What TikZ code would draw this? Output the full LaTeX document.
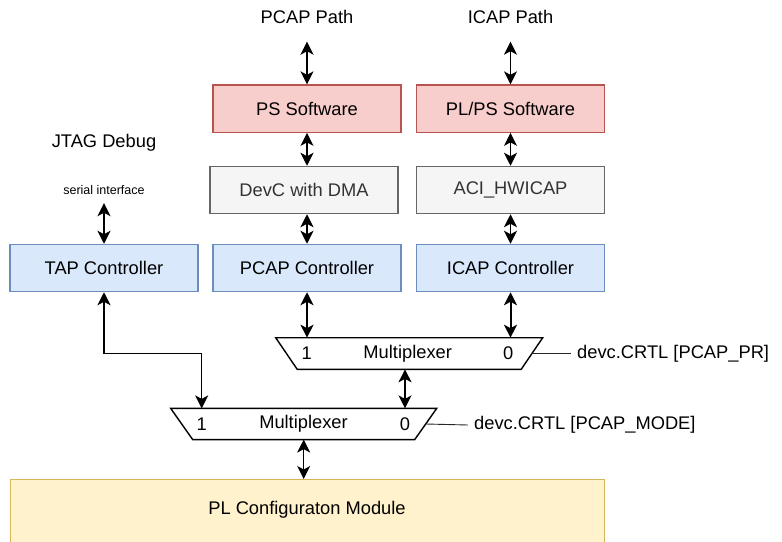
\documentclass[tikz,border=0pt]{standalone}
\usepackage{fontspec}
\setmainfont{Liberation Sans}
\usetikzlibrary{arrows.meta}

\definecolor{redfill}{HTML}{F8CECC}
\definecolor{redline}{HTML}{B85450}
\definecolor{grayfill}{HTML}{F5F5F5}
\definecolor{grayline}{HTML}{666666}
\definecolor{graytext}{HTML}{333333}
\definecolor{bluefill}{HTML}{DAE8FC}
\definecolor{blueline}{HTML}{6C8EBF}
\definecolor{yellowfill}{HTML}{FFF2CC}
\definecolor{yellowline}{HTML}{D6B656}

\tikzset{
  mainfont/.style={font=\fontsize{18.3}{22}\selectfont},
  smallfont/.style={font=\fontsize{12.5}{15}\selectfont},
  box/.style={draw, line width=1.2pt, minimum width=188pt, minimum height=47.3pt,
    inner sep=0pt, mainfont},
  redbox/.style={box, fill=redfill, draw=redline},
  graybox/.style={box, fill=grayfill, draw=grayline, text=graytext},
  bluebox/.style={box, fill=bluefill, draw=blueline},
  yellowbox/.style={draw=yellowline, fill=yellowfill, line width=1.2pt, inner sep=0pt},
  txt/.style={mainfont, inner sep=0pt},
  muxarea/.style={inner sep=0pt, outer sep=0pt},
  muxline/.style={draw, line width=1.4pt, line join=miter, fill=white},
  tip/.tip={Stealth[length=13pt, width=13pt, inset=3.5pt]},
  link/.style={line width=1.4pt, tip-tip},
  boldlink/.style={line width=2pt, tip-tip},
  ctl/.style={line width=0.9pt, draw=black!85},
}

\begin{document}
\begin{tikzpicture}[x=1pt, y=-1pt]
\useasboundingbox (0,0) rectangle (782,541);
\clip (0,0) rectangle (782,541);

% path labels above the columns
\node[txt, minimum height=49pt] (pcaplbl) at (307,17) {PCAP Path};
\node[txt, minimum height=49pt] (icaplbl) at (510.5,17) {ICAP Path};
\node[txt] (jtag) at (104,143) {JTAG Debug};
\node[smallfont, inner sep=0pt, minimum height=26pt] (serial) at (104,190) {serial interface};

% software layer
\node[redbox] (ps) at (307,108.6) {PS Software};
\node[redbox] (plps) at (510.5,108.6) {PL/PS Software};

% driver layer
\node[graybox] (devc) at (304,190) {DevC with DMA};
\node[graybox] (aci) at (510.5,190) {ACI\_HWICAP};

% controller layer
\node[bluebox] (tap) at (104,268) {TAP Controller};
\node[bluebox] (pcap) at (307,268) {PCAP Controller};
\node[bluebox] (icap) at (510.5,268) {ICAP Controller};

% upper multiplexer (PCAP / ICAP)
\node[muxarea, minimum width=267pt, minimum height=31.6pt] (mux1) at (409.2,353.5) {};
\draw[muxline] (mux1.north west) -- (mux1.north east)
  -- ([xshift=-21.5pt]mux1.south east) -- ([xshift=21.5pt]mux1.south west) -- cycle;
\node[txt] (m1one) at (306.7,353.5) {1};
\node[txt] (m1text) at (407.7,353.5) {Multiplexer};
\node[txt] (m1zero) at (508.3,353.5) {0};

% lower multiplexer (JTAG / processor)
\node[muxarea, minimum width=266pt, minimum height=31.2pt] (mux2) at (303.7,424) {};
\draw[muxline] (mux2.north west) -- (mux2.north east)
  -- ([xshift=-22pt]mux2.south east) -- ([xshift=22pt]mux2.south west) -- cycle;
\node[txt] (m2one) at (201.7,424) {1};
\node[txt] (m2text) at (303.5,424) {Multiplexer};
\node[txt] (m2zero) at (405,424) {0};

% select signals
\node[txt, anchor=west, inner sep=6pt] (prsel) at (571,353.5) {devc.CRTL [PCAP\_PR]};
\node[txt, anchor=west, inner sep=6pt] (modesel) at (468,425) {devc.CRTL [PCAP\_MODE]};
\draw[ctl] ([xshift=-10.75pt]mux1.east) -- (prsel.west);
\draw[ctl] ([xshift=-11pt]mux2.east) -- (modesel.west);

% configuration module
\node[yellowbox, anchor=north west, minimum width=594pt, minimum height=70pt] (pl) at (10,479) {};
\node[txt] (pltext) at (307,510) {PL Configuraton Module};

% data paths
\draw[link] (pcaplbl.south) -- (ps.north);
\draw[link] (icaplbl.south) -- (plps.north);
\draw[link] (ps.south) -- (ps.south |- devc.north);
\draw[link] (plps.south) -- (aci.north);
\draw[link] (ps.south |- devc.south) -- (pcap.north);
\draw[link] (aci.south) -- (icap.north);
\draw[link] (serial.south) -- (tap.north);
\draw[link] (pcap.south) -- (pcap.south |- mux1.north);
\draw[boldlink] (icap.south) -- (icap.south |- mux1.north);
\draw[link] (tap.south) -- (tap.south |- mux1.center) -| (m2one |- mux2.north);
\draw[link] (m2zero |- mux1.south) -- (m2zero |- mux2.north);
\draw[link] (mux2.south) -- (mux2.south |- pl.north);
\end{tikzpicture}
\end{document}
